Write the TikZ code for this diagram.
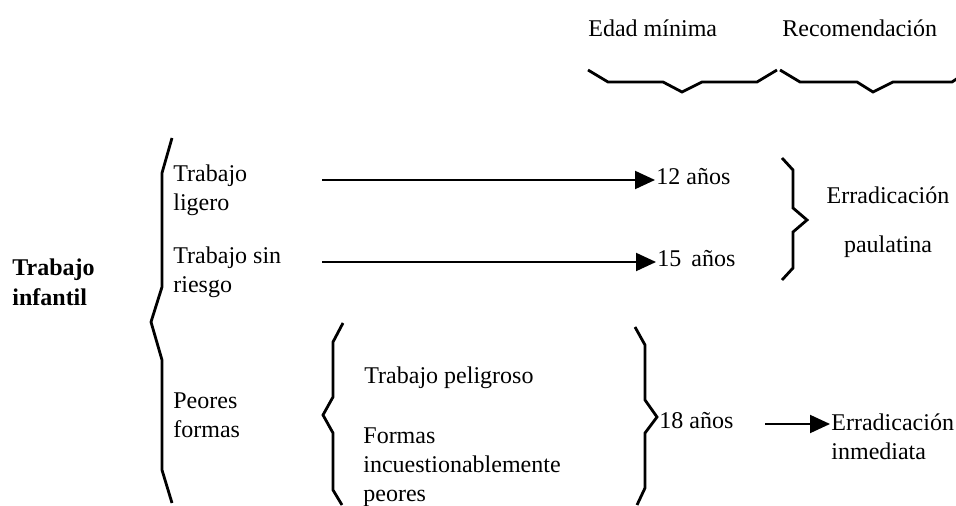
\documentclass[tikz,border=0pt]{standalone}
\usepackage{fontspec}
\setmainfont{Liberation Serif}
\usetikzlibrary{arrows.meta, positioning}

\begin{document}
\begin{tikzpicture}[x=0.5pt, y=-0.5pt,
    term/.style={anchor=west, align=left, inner sep=0pt,
                 font=\fontsize{12}{14.4}\selectfont},
    head/.style={term, font=\fontsize{12}{15}\selectfont\bfseries},
    brace/.style={line width=1.4pt, line join=miter},
    flow/.style={-{Triangle[length=10pt,width=9pt]}, line width=1pt,
                 shorten >=0.5pt},
]
\useasboundingbox (0,0) rectangle (956,506);

% ==========================================================
% Column headers
% ==========================================================
\node[term] (edad)  at (588,28) {Edad mínima};
\node[term] (recom) at (782,28) {Recomendación};
\draw[brace] (588,70) -- (608,82) -- (663,82) -- (682,92)
    -- (702,82) -- (757,82) -- (777,70);
\draw[brace] (780,70) -- (800,82) -- (857,82) -- (873,92)
    -- (893,82) -- (952,82) -- (958,78);

% ==========================================================
% Main classification
% ==========================================================
\node[head] (infantil) at (12,282) {Trabajo\\ infantil};
\draw[brace] (172,138) -- (162,173) -- (162,287) -- (151,322)
    -- (162,360) -- (162,470) -- (172,503);

\node[term] (ligero)    at (173,190) {Trabajo\\ ligero};
\node[term] (sinriesgo) at (173,272) {Trabajo sin\\ riesgo};
\node[term] (peores)    at (173,415) {Peores\\ formas};

% -------- light and riskless work -----------
\node[term] (age12) at (656,177) {12 años};
\node[term] (age15) at (657,259) {15\ \,años};
\coordinate (a12) at (322,180);
\coordinate (a15) at (322,262);
\draw[flow] (a12) -- (a12 -| age12.west);
\draw[flow] (a15) -- (a15 -| age15.west);

\draw[brace] (782,158) -- (793,170) -- (793,208) -- (807,220)
    -- (793,232) -- (793,268) -- (782,280);
\node[term, anchor=center, align=center] (paulatina) at (888,222)
    {Erradicación\\[10pt]paulatina};

% -------- worst forms -----------
\draw[brace] (343,323) -- (333,342) -- (333,397) -- (323,415)
    -- (333,433) -- (333,490) -- (342,505);
\node[term] (peligroso) at (364,378) {Trabajo peligroso};
\node[term] (formas)    at (363,467)
    {Formas\\ incuestionablemente\\ peores};
\draw[brace] (635,327) -- (645,345) -- (645,400) -- (657,417)
    -- (645,433) -- (645,488) -- (637,505);

\node[term] (age18)     at (659,421) {18 años};
\node[term] (inmediata) at (831,437) {Erradicación\\ inmediata};
\coordinate (a18) at (765,424);
\draw[flow] (a18) -- (a18 -| inmediata.west);

\end{tikzpicture}
\end{document}
